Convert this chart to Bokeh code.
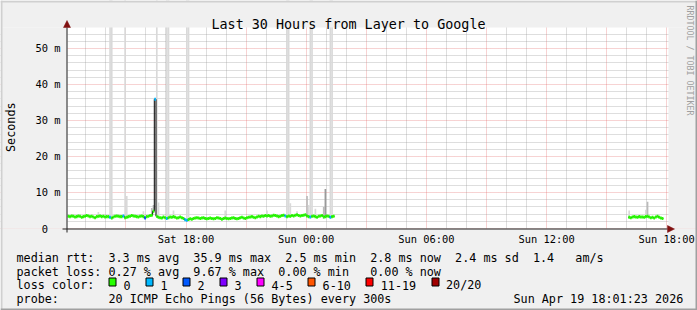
import math
from bokeh.plotting import figure
from bokeh.models import Range1d, FixedTicker
from bokeh.core.properties import value
from bokeh.embed import file_html
from bokeh.resources import INLINE

# ---------------- data ----------------
title_text = "Last 30 Hours from Layer to Google"
step_hours = 5 / 60                    # one sample every 300 s
seg1_start = -(11 + 55 / 60)           # hours relative to Sun 00:00 -> Sat 12:05
seg2_start = 16 + 5 / 60               # Sun 16:05

median_seg1 = [
    3.4, 3.3, 3.5, 3.4, 3.2, 3.3, 3.5, 3.4, 3.1, 3.3, 3.4, 3.6,
    3.5, 3.3, 3.4, 3.2, 3.0, 3.3, 3.4, 3.5, 3.3, 3.4, 3.2, 3.3,
    3.3, 3.1, 2.9, 3.2, 3.4, 3.5, 3.4, 3.3, 3.3, 3.5, 3.0, 3.1,
    3.3, 3.4, 3.6, 3.5, 3.4, 3.3, 3.2, 3.4, 3.5, 3.3, 2.9, 3.3,
    3.4, 3.6, 3.7, 4.8, 35.9, 3.4, 3.1, 3.0, 2.9, 3.2, 3.0, 2.8,
    3.0, 3.2, 3.1, 3.3, 3.1, 2.9, 3.0, 3.2, 3.0, 2.8, 2.4, 2.3,
    2.5, 2.7, 2.6, 2.8, 2.9, 3.0, 2.9, 2.8, 2.9, 3.0, 2.8, 2.7,
    2.8, 2.9, 2.8, 2.7, 2.8, 3.0, 2.9, 2.8, 2.6, 2.8, 2.9, 2.8,
    2.7, 2.8, 2.9, 3.0, 2.8, 2.7, 2.8, 3.0, 3.1, 2.9, 2.8, 3.0,
    3.1, 3.2, 3.3, 3.1, 3.0, 3.2, 3.4, 3.3, 3.5, 3.4, 3.6, 3.5,
    3.6, 3.4, 3.5, 3.7, 3.6, 3.5, 3.3, 3.4, 3.6, 3.7, 3.5, 3.3,
    3.5, 3.4, 3.6, 3.5, 3.7, 3.8, 3.6, 3.5, 3.6, 3.7, 3.8, 3.5,
    3.3, 3.2, 3.4, 3.5, 3.3, 3.1, 3.4, 3.5, 3.6, 3.2, 3.3, 3.5, 3.4, 3.1, 3.3, 3.4,
]
median_seg2 = [3.1, 3.0, 3.2, 3.3, 3.2, 3.1, 3.3, 3.2, 3.2, 3.1, 3.3,
               3.4, 3.2, 3.0, 3.1, 2.9, 3.2, 3.4, 3.1, 2.9, 2.8]

# lost pings (out of 20) per sample, indexed from Sat 12:05
loss_step = [25, 33, 46, 52, 59, 70, 71, 130, 145, 157]
loss_count = [1, 1, 2, 1, 1, 1, 1, 1, 1, 1]

# visible smoke (spread of the 20 pings), indexed from Sat 12:05
smoke_step = [18, 25, 26, 34, 35, 45, 50, 51, 53, 54,
              59, 60, 63, 71, 72, 94, 119, 131, 132, 133,
              137, 143, 144, 145, 146, 148, 153, 154, 157, 158,
              336, 346, 347]
smoke_top = [4.6, 75, 75, 75, 9.0, 4.8, 5.7, 6.5, 75, 7.2,
             75, 75, 5.0, 75, 75, 5.0, 5.0, 75, 75, 7.0,
             4.8, 9.0, 6.5, 75, 75, 5.5, 6.0, 11.0, 75, 75,
             5.0, 5.2, 7.4]
smoke_shade = [0, 0, 0, 0, 0, 0, 1, 1, 0, 0,
               0, 0, 0, 0, 0, 0, 0, 0, 0, 0,
               0, 1, 0, 0, 0, 0, 1, 2, 0, 0,
               0, 0, 1]
smoke_colors = ["#d9d9d9", "#bababa", "#9a9a9a"]

x_tick_hours = [-9, -6, -3, 0, 3, 6, 9, 12, 15, 18]
x_tick_labels = ["", "Sat 18:00", "", "Sun 00:00", "", "Sun 06:00", "", "Sun 12:00", "", "Sun 18:00"]
y_ticks = [0, 10, 20, 30, 40, 50]
y_tick_labels = ["0  ", "10 m", "20 m", "30 m", "40 m", "50 m"]

loss_labels = ["0", "1", "2", "3", "4-5", "6-10", "11-19", "20/20"]
loss_upper = [0, 1, 2, 3, 5, 10, 19, 20]
loss_colors = ["#26ff00", "#00b8ff", "#0059ff", "#7e00ff", "#ff00ff", "#ff5500", "#ff0000", "#a10000"]

legend_lines = [
    "median rtt:" + " " * 2 + "3.3 ms avg  35.9 ms max  2.5 ms min  2.8 ms now  2.4 ms sd  1.4   am/s",
    "packet loss: 0.27 % avg  9.67 % max  0.00 % min   0.00 % now",
    "loss color:",
    "probe:" + " " * 7 + "20 ICMP Echo Pings (56 Bytes) every 300s",
]
date_text = "Sun Apr 19 18:01:23 2026"
watermark = "RRDTOOL / TOBI OETIKER"

# ---------------- layout constants (pixels) ----------------
W, H = 697, 310
FL, FR, FT, FB = 67, 668, 27, 228          # data area in the page
X_LO, X_HI = -11.917, 18.088               # hours at FL / FR
Y_LO, Y_HI = 0.0, 55.83                    # ms at FB / FT
MONO = "DejaVu Sans Mono"
BG = "#f0f0f0"


def dx(px):
    return X_LO + (px - FL) * (X_HI - X_LO) / (FR - FL)


def dy(py):
    return Y_LO + (FB - py) * (Y_HI - Y_LO) / (FB - FT)


def nb(s):
    return s.replace(" ", "\u00a0")


# the frame covers the whole page; axes are pinned at the plot edges
p = figure(width=W, height=H, output_backend="svg", toolbar_location=None,
           x_range=Range1d(dx(0), dx(W)), y_range=Range1d(dy(H), dy(0)),
           min_border=0, background_fill_color="#ffffff", border_fill_color=BG,
           outline_line_color=None)
p.title.visible = False

p.xaxis.ticker = FixedTicker(ticks=x_tick_hours,
                             minor_ticks=[h for h in range(-11, 19) if h % 3 != 0])
p.xaxis.major_label_overrides = {h: nb(t) for h, t in zip(x_tick_hours, x_tick_labels)}
p.yaxis.ticker = FixedTicker(ticks=y_ticks,
                             minor_ticks=[v for v in range(2, 56, 2) if v % 10 != 0])
p.yaxis.major_label_overrides = {v: nb(t) for v, t in zip(y_ticks, y_tick_labels)}
p.xaxis.fixed_location = dy(230)
p.yaxis.fixed_location = dx(62)
for ax in (p.xaxis[0], p.yaxis[0]):
    ax.axis_line_color = None
    ax.major_tick_line_color = None
    ax.minor_tick_line_color = None
    ax.major_tick_out = 0
    ax.major_tick_in = 0
    ax.minor_tick_out = 0
    ax.minor_tick_in = 0
    ax.major_label_text_font = MONO
    ax.major_label_text_font_size = "10.4px"
    ax.major_label_text_color = "#000000"
p.xaxis.major_label_standoff = 2
p.yaxis.major_label_standoff = 2
p.yaxis.axis_label = "\u00a0" * 8 + "Seconds"
p.yaxis.axis_label_text_font = MONO
p.yaxis.axis_label_text_font_size = "11.75px"
p.yaxis.axis_label_text_font_style = "normal"
p.yaxis.axis_label_text_color = "#000000"
p.yaxis.axis_label_standoff = 14

for g in (p.xgrid[0], p.ygrid[0]):
    g.grid_line_color = "#e05050"
    g.grid_line_alpha = 0.5
    g.grid_line_dash = "1 1"
    g.grid_line_width = 1
    g.minor_grid_line_color = "#909090"
    g.minor_grid_line_alpha = 0.6
    g.minor_grid_line_dash = "1 1"
    g.minor_grid_line_width = 1

# ---------------- data marks ----------------
seg2_offset = round((seg2_start - seg1_start) / step_hours)
median_by_step = {i: m for i, m in enumerate(median_seg1)}
median_by_step.update({seg2_offset + j: m for j, m in enumerate(median_seg2)})
loss_by_step = dict(zip(loss_step, loss_count))


def t_of(i):
    return seg1_start + i * step_hours


# smoke
p.quad(left=[t_of(i) for i in smoke_step],
       right=[t_of(i) + step_hours for i in smoke_step],
       bottom=[median_by_step[i] - 0.4 for i in smoke_step],
       top=smoke_top,
       fill_color=[smoke_colors[s] for s in smoke_shade], line_color=None)

# black median line (step shape)
xs, ys = [], []
for start, seg in ((0, median_seg1), (seg2_offset, median_seg2)):
    for j, m in enumerate(seg):
        t = t_of(start + j)
        xs += [t, t + step_hours]
        ys += [m, m]
    xs.append(float("nan"))
    ys.append(float("nan"))
p.line(xs, ys, line_color="#000000", line_width=1)


def loss_color(n):
    for up, c in zip(loss_upper, loss_colors):
        if n <= up:
            return c
    return loss_colors[-1]


steps = sorted(median_by_step)
half = 0.42
p.quad(left=[t_of(i) for i in steps],
       right=[t_of(i) + step_hours for i in steps],
       bottom=[median_by_step[i] - half for i in steps],
       top=[median_by_step[i] + half for i in steps],
       fill_color=[loss_color(loss_by_step.get(i, 0)) for i in steps], line_color=None)

# ---------------- page margins (gray) around the data area ----------------
p.quad(left=[dx(0), dx(0), dx(0), dx(FR)],
       right=[dx(W), dx(W), dx(FL), dx(W)],
       top=[dy(0), dy(FB), dy(FT), dy(FT)],
       bottom=[dy(FT), dy(H), dy(FB), dy(FB)],
       fill_color=BG, line_color=None)
# 3D border shades
p.quad(left=[dx(0), dx(0), dx(0), dx(W - 2)],
       right=[dx(W), dx(2), dx(W), dx(W)],
       top=[dy(0), dy(0), dy(H - 2), dy(0)],
       bottom=[dy(2), dy(H), dy(H), dy(H)],
       fill_color=["#d0d0d0", "#d0d0d0", "#a0a0a0", "#a0a0a0"], line_color=None)

# axis lines with arrows
p.segment(x0=[dx(62), dx(FL - 0.5)], y0=[dy(FB + 0.5), dy(232)],
          x1=[dx(FR - 1), dx(FL - 0.5)], y1=[dy(FB + 0.5), dy(FT)],
          line_color="#202020", line_width=1)
p.patches(xs=[[dx(FR - 1), dx(FR - 1), dx(FR + 6)], [dx(FL - 4), dx(FL + 3), dx(FL - 0.5)]],
          ys=[[dy(FB - 3), dy(FB + 4), dy(FB + 0.5)], [dy(FT), dy(FT), dy(FT - 7)]],
          fill_color="#801010", line_color="#801010", line_width=0.5)

# title and watermark
p.text(x=[dx(348)], y=[dy(23.7)], text=[title_text], text_font=value(MONO),
       text_font_size=value("13.4px"), text_align="center", text_baseline="alphabetic",
       text_color="#000000")
p.text(x=[dx(689)], y=[dy(5)], text=[nb(watermark)], text_font=value(MONO),
       text_font_size=value("8.3px"), text_align="left", text_baseline="middle",
       angle=-math.pi / 2, text_color="#a0a0a0")

# ---------------- legend below the plot ----------------
ADV = 7.07
base = [257.3, 271.1, 284.9, 298.7]
p.text(x=[dx(16)] * len(legend_lines) + [dx(513)], y=[dy(b) for b in base] + [dy(base[3])],
       text=[nb(s) for s in legend_lines] + [nb(date_text)],
       text_font=value(MONO), text_font_size=value("11.75px"),
       text_align="left", text_baseline="alphabetic", text_color="#000000")

bl, lx = [], []
bx = 108.3
for lab in loss_labels:
    bl.append(round(bx) + 0.5)
    tx = bx + 14.8
    lx.append(tx)
    bx = tx + len(lab) * ADV + 15.1
p.quad(left=[dx(b) for b in bl], right=[dx(b + 7) for b in bl],
       top=[dy(277.5)] * len(bl), bottom=[dy(285.5)] * len(bl),
       fill_color=loss_colors, line_color="#000000", line_width=1)
p.text(x=[dx(t) for t in lx], y=[dy(base[2])] * len(lx), text=loss_labels,
       text_font=value(MONO), text_font_size=value("11.75px"),
       text_align="left", text_baseline="alphabetic", text_color="#000000")

open("out.html", "w").write(file_html(p, INLINE))
